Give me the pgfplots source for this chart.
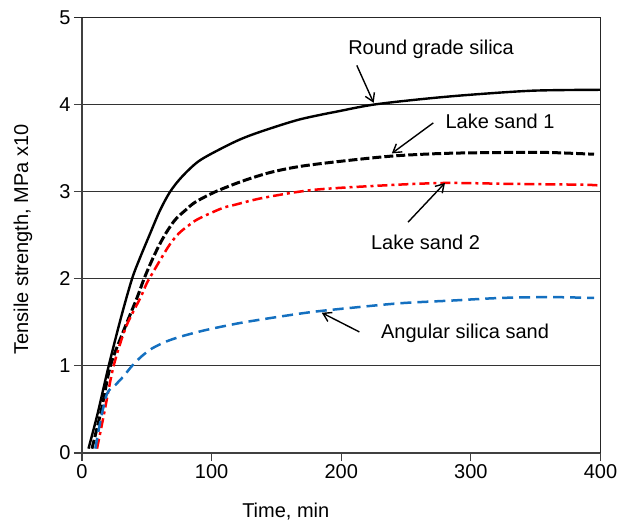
\documentclass[border=0pt]{standalone}
\usepackage{fontspec}
\setmainfont{Liberation Sans}
\usepackage{pgfplots}
\pgfplotsset{compat=1.18}
\usetikzlibrary{arrows.meta}
\definecolor{angblue}{RGB}{20,112,192}

\begin{document}
\begin{tikzpicture}
\path[use as bounding box] (0,0) rectangle (619pt,524pt);
\begin{axis}[
    at={(82pt,71pt)}, anchor=south west,
    scale only axis,
    width=518.5pt, height=435.5pt,
    xmin=0, xmax=400, ymin=0, ymax=5,
    xtick={0,100,200,300,400},
    ytick={0,1,2,3,4,5},
    xtick pos=bottom, ytick pos=left,
    tick align=outside,
    major tick length=8pt,
    tick style={black!75, line width=1.1pt},
    axis line style={black!75, line width=1.1pt},
    ymajorgrids,
    major grid style={black!80, line width=1.1pt},
    font=\fontsize{20}{24}\selectfont,
    /pgf/number format/assume math mode=true,
    xlabel={Time, min},
    ylabel={Tensile strength, MPa x10},
    xlabel style={at={(axis description cs:0.393,-0.147)}, anchor=base},
    ylabel style={at={(axis description cs:-0.114,0.49)}, anchor=center},
    every axis plot/.append style={smooth, tension=0.5, no marks},
    clip=false,
]
% Round grade silica
\addplot[black, line width=2.4pt] coordinates {
(5,0.05) (12,0.45) (20.6,1.0) (30,1.55) (38.6,2.0) (45,2.25) (52,2.5) (60,2.78)
(68,3.0) (77,3.17) (90,3.35) (108,3.5) (123.5,3.61) (140,3.7) (168,3.83)
(200,3.93) (225,4.0) (260,4.06) (297,4.11) (348,4.16) (400,4.17)};
% Lake sand 1
\addplot[black, line width=3pt, dash pattern=on 9pt off 3pt] coordinates {
(7.7,0.05) (15,0.5) (21.9,1.0) (32,1.4) (42.4,1.78) (47.6,1.99) (53,2.18)
(59,2.37) (65,2.53) (72,2.68) (80,2.79) (87.4,2.88) (103,3.0) (123.5,3.12)
(145,3.22) (168,3.29) (200,3.35) (240,3.41) (280,3.44) (323,3.45) (360,3.45)
(395,3.43)};
% Lake sand 2
\addplot[red, line width=2.5pt, dash pattern=on 10pt off 4pt on 3pt off 4pt] coordinates {
(11.6,0.05) (17,0.45) (24.4,1.0) (34,1.45) (45,1.78) (50,1.95) (55,2.08)
(61.7,2.25) (68,2.4) (74.6,2.52) (82,2.61) (90,2.69) (108,2.81) (118,2.85)
(140,2.93) (178,3.02) (230,3.07) (279,3.1) (330,3.09) (387,3.08) (400,3.07)};
% Angular silica sand
\addplot[angblue, line width=2.5pt, dash pattern=on 11pt off 6pt] coordinates {
(10.3,0.05) (14,0.35) (19.3,0.68) (25.7,0.78) (32,0.88) (38.6,1.0) (46,1.11)
(54,1.2) (65,1.28) (77,1.34) (95,1.41) (121,1.49) (150,1.56) (178,1.62)
(210,1.67) (246,1.72) (285,1.75) (323,1.78) (360,1.79) (395,1.78)};

\node[anchor=base] at (axis cs:269.3,4.58) {Round grade silica};
\draw[-{Straight Barb[length=8pt,width=10pt]}, line width=1.4pt] (axis cs:212,4.45) -- (axis cs:225,4.02);
\node[anchor=base] at (axis cs:322.5,3.73) {Lake sand 1};
\draw[-{Straight Barb[length=8pt,width=10pt]}, line width=1.4pt] (axis cs:271,3.79) -- (axis cs:239,3.44);
\node[anchor=base] at (axis cs:265,2.34) {Lake sand 2};
\draw[-{Straight Barb[length=8pt,width=10pt]}, line width=1.4pt] (axis cs:251.5,2.65) -- (axis cs:280,3.1);
\node[anchor=base] at (axis cs:295.5,1.32) {Angular silica sand};
\draw[-{Straight Barb[length=8pt,width=10pt]}, line width=1.4pt] (axis cs:214,1.39) -- (axis cs:185,1.61);
\end{axis}
% top and right sides of the frame, with the tick at 5
\draw[black!85, line width=1.4pt] (74pt,506.5pt) -- (600.5pt,506.5pt) -- (600.5pt,71pt);
\end{tikzpicture}
\end{document}
